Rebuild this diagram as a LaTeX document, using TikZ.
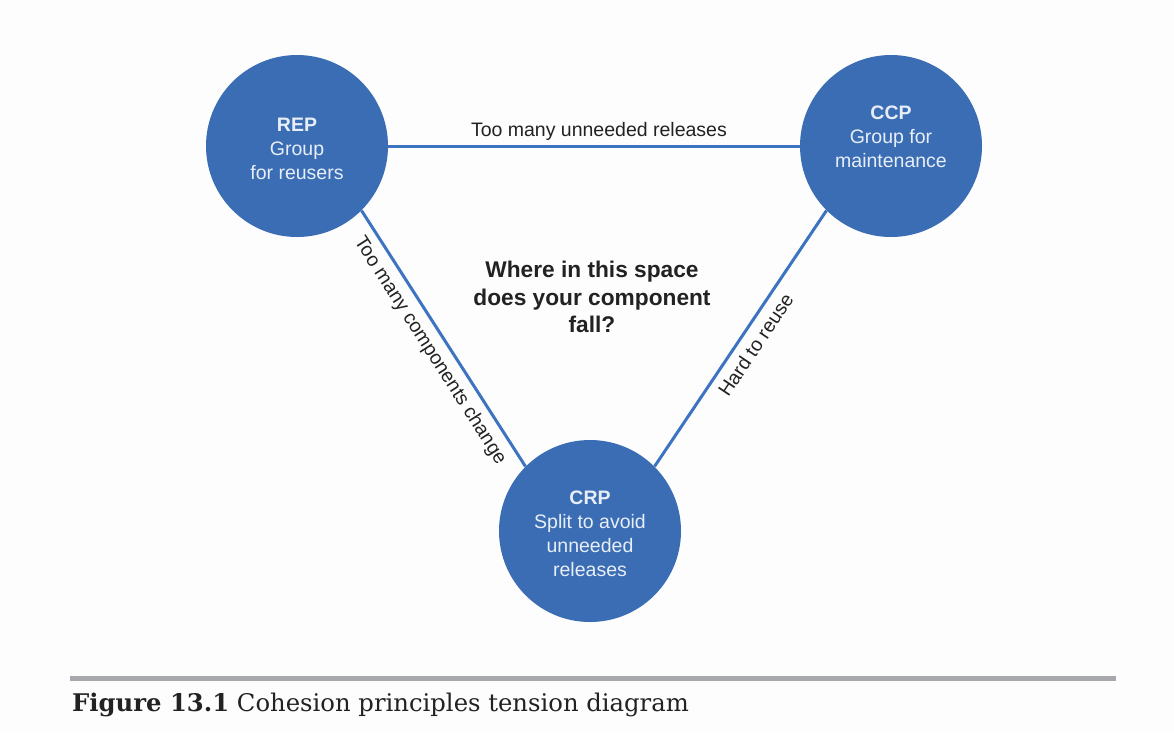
\documentclass[tikz,border=0pt]{standalone}
\usepackage{fontspec}
\setmainfont{Liberation Sans}
\newfontfamily\capfont{DejaVu Serif}
\definecolor{circblue}{HTML}{3A6DB4}
\definecolor{lineblue}{HTML}{3C74C0}
\definecolor{circtext}{HTML}{E8EEF7}
\definecolor{darktext}{HTML}{222222}
\definecolor{rulegray}{HTML}{A7A8AC}
\definecolor{bg}{HTML}{FDFDFD}
\tikzset{
  circ/.style={circle, fill=circblue, minimum size=182pt, inner sep=0pt},
  circlabel/.style={align=center, text=circtext, font=\fontsize{19.5}{24}\selectfont},
  conn/.style={draw=lineblue, line width=3pt},
  connlabel/.style={text=darktext, font=\fontsize{19.5}{22}\selectfont},
}
\begin{document}
\begin{tikzpicture}[x=1pt,y=-1pt]
\fill[bg] (0,0) rectangle (1174,732);
\useasboundingbox (0,0) rectangle (1174,732);
% circles
\node[circ] (rep) at (297,146) {};
\node[circ] (ccp) at (891,146) {};
\node[circ] (crp) at (590,531) {};
% connectors
\draw[conn] (rep.east) -- node[connlabel, anchor=south, inner sep=4pt, pos=0.512] (l1) {Too many unneeded releases} (ccp.west);
\draw[conn] (rep.south east) -- node[connlabel, sloped, anchor=north, inner sep=7.5pt, pos=0.51] (l2) {Too many components change} (crp.north west);
\draw[conn] (crp.north east) -- node[connlabel, sloped, anchor=north, inner sep=7.5pt, pos=0.51] (l3) {Hard to reuse} (ccp.south west);
% circle texts
\node[circlabel] (reptext) at (297,149) {\textbf{REP}\\Group\\for reusers};
\node[circlabel] (ccptext) at (891,137) {\textbf{CCP}\\Group for\\maintenance};
\node[circlabel] (crptext) at (590,534) {\textbf{CRP}\\Split to avoid\\unneeded\\releases};
% center question
\node[align=center, text=darktext, font=\fontsize{22.7}{27.5}\selectfont\bfseries] (q) at (592,297) {Where in this space\\does your component\\fall?};
% caption
\coordinate (rl) at (70,678.5);
\coordinate (rr) at (1116,678.5);
\draw[rulegray, line width=4.5pt] (rl) -- (rr);
\node[anchor=base west, inner sep=0pt, text=darktext, font=\capfont\fontsize{24.3}{30}\selectfont] (cap) at (72,711) {\textbf{Figure 13.1} Cohesion principles tension diagram};
\end{tikzpicture}
\end{document}
